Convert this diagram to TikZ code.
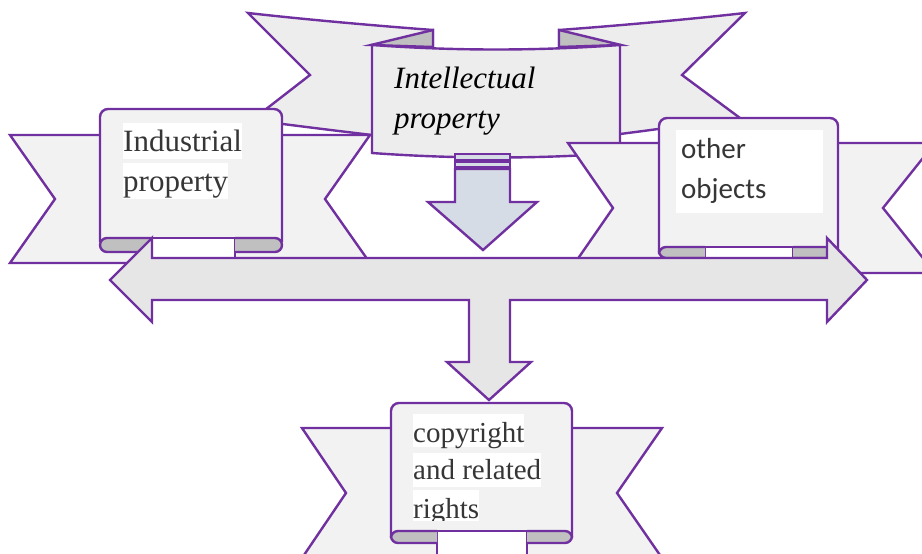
\documentclass[tikz,border=0pt]{standalone}
\usepackage{fontspec}
\setmainfont{Liberation Serif}
\newfontfamily\calibri{Carlito}
\usepackage{tikz}

\definecolor{ribbonline}{HTML}{7030A0}
\definecolor{bandfill}{HTML}{F2F2F2}
\definecolor{topfill}{HTML}{EDEDED}
\definecolor{curlfill}{HTML}{C0C0C0}
\definecolor{arrowfill}{HTML}{E6E6E6}
\definecolor{downfill}{HTML}{D6DCE5}
\definecolor{textgray}{HTML}{363636}

\begin{document}
\begin{tikzpicture}[x=1pt,y=-1pt,line width=2.4pt,
  band/.style={draw=ribbonline,fill=bandfill},
  topband/.style={draw=ribbonline,fill=topfill},
  curl/.style={draw=ribbonline,fill=curlfill,rounded corners=7pt},
  gap/.style={draw=ribbonline,fill=white},
  blockarrow/.style={draw=ribbonline,fill=arrowfill},
  downarrow/.style={draw=ribbonline,fill=downfill},
  serifline/.style={anchor=base west,inner sep=0pt,fill=white,text=textgray,
    text height=28pt,text depth=8pt,font=\fontsize{31}{38}\selectfont},
  sansline/.style={anchor=base west,inner sep=0pt,text=textgray,
    font=\calibri\fontsize{29}{38}\selectfont},
  topline/.style={anchor=base west,inner sep=0pt,
    font=\itshape\fontsize{31}{38}\selectfont}]
\useasboundingbox (0,0) rectangle (922,554);
\clip (0,0) rectangle (922,554);

% top ribbon
\draw[topband] (248,13) .. controls (310,20) and (380,26) .. (433,30) -- (433,140) -- (372,135) .. controls (330,130) and (290,125) .. (252,120) -- (310,75) -- cycle;
\draw[topband] (745,13) .. controls (683,20) and (613,26) .. (559,30) -- (559,140) -- (620,134) .. controls (660,129) and (700,123) .. (740,118) -- (682,75) -- cycle;
\draw[curl,sharp corners] (433,30) -- (371,45) -- (433,47) -- cycle;
\draw[curl,sharp corners] (559,30) -- (621,45) -- (559,47) -- cycle;
\draw[topband] (372,45) .. controls (455,51) and (537,51) .. (620,45) -- (620,153) .. controls (537,159) and (455,159) .. (372,153) -- cycle;
\node[topline] (ip1) at (393,88) {Intellectual};
\node[topline] (ip2) at (393,128) {property};

% left ribbon
\draw[band] (10,135) -- (370,135) -- (325,199) -- (370,263) -- (10,263) -- (55,199) -- cycle;
\draw[band,rounded corners=8pt] (100,242) -- (100,109) -- (282,109) -- (282,242);
\draw[gap] (152,238) rectangle (235,262);
\draw[curl] (152,238) -- (100,238) -- (100,252) -- (152,252);
\draw[curl] (235,238) -- (282,238) -- (282,252) -- (235,252);
\node[serifline] (ind1) at (122,151) {Industrial};
\node[serifline] (ind2) at (122,191) {property};

% right ribbon
\draw[band] (568,143) -- (935,143) -- (883,208) -- (935,273) -- (568,273) -- (613,208) -- cycle;
\draw[band,rounded corners=8pt] (659,252) -- (659,118) -- (838,118) -- (838,252);
\draw[gap] (705,247) rectangle (793,262);
\draw[curl] (705,247) -- (659,247) -- (659,258) -- (705,258);
\draw[curl] (793,247) -- (838,247) -- (838,258) -- (793,258);
\fill[white] (676,130) rectangle (823,213);
\node[sansline] (oth1) at (680,158) {other};
\node[sansline] (oth2) at (680,198) {objects};

% small arrow under the top ribbon
\draw[downarrow,line width=1.8pt] (455,154) rectangle (510,160);
\draw[downarrow,line width=1.8pt] (455,162) rectangle (510,167);
\draw[downarrow] (455,169) -- (510,169) -- (510,202) -- (537,202) -- (483,250) -- (428,202) -- (455,202) -- cycle;

% double arrow with the branch down
\draw[blockarrow] (110,280) -- (152,238) -- (152,258) -- (827,258) -- (827,238) -- (867,280) -- (827,322) -- (827,300) -- (510,300) -- (510,362) -- (531,362) -- (489,400) -- (447,362) -- (469,362) -- (469,300) -- (152,300) -- (152,322) -- cycle;

% bottom ribbon
\draw[band] (302,428) -- (662,428) -- (617,493) -- (662,558) -- (302,558) -- (346,493) -- cycle;
\draw[band,rounded corners=8pt] (391,537) -- (391,403) -- (572,403) -- (572,537);
\draw[gap] (437,531) rectangle (527,570);
\draw[curl] (437,531) -- (391,531) -- (391,543) -- (437,543);
\draw[curl] (527,531) -- (572,531) -- (572,543) -- (527,543);
\node[serifline,text depth=5pt,font=\fontsize{29}{38}\selectfont] (cr1) at (412,442) {copyright};
\node[serifline,text height=26pt,font=\fontsize{29}{38}\selectfont] (cr2) at (412,479) {and related};
\begin{scope}
\clip (400,490) rectangle (600,520);
\node[serifline,text depth=4pt,font=\fontsize{29}{38}\selectfont] (cr3) at (412,518) {rights};
\end{scope}
\end{tikzpicture}
\end{document}
